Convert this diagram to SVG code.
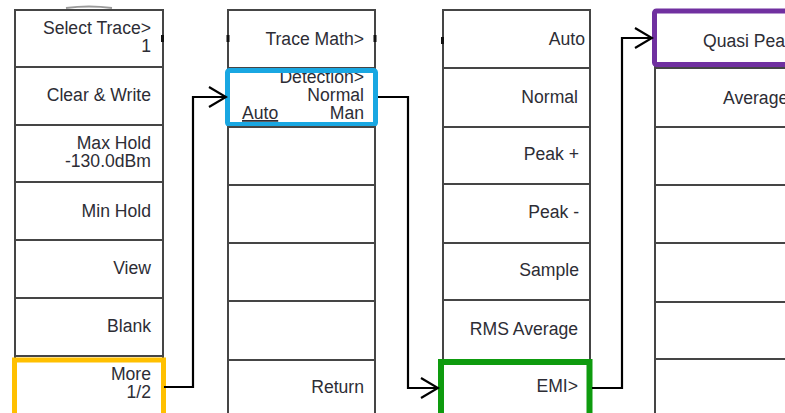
<svg xmlns="http://www.w3.org/2000/svg" width="785" height="413" viewBox="0 0 785 413">
<style>
.btn{fill:#fff;stroke:#454545;stroke-width:2}
.t{font-family:"Liberation Sans",Arial,sans-serif;font-size:17.6px;fill:#2d2d35;text-anchor:end}
.ts{text-anchor:start}
.con{fill:none;stroke:#000;stroke-width:2.2}
.tick{fill:#111}
</style>
<defs>
<marker id="arr" markerWidth="20" markerHeight="24" refX="18" refY="11" orient="auto" markerUnits="userSpaceOnUse">
<path d="M1,1 L18,11 L1,21" fill="none" stroke="#000" stroke-width="2.2"/>
</marker>
</defs>
<rect width="785" height="413" fill="#fff"/>
<path d="M66,8 Q89,5 112,8" fill="none" stroke="#9a9a9a" stroke-width="2"/>

<!-- Column 1 -->
<g id="col1">
<g id="select-trace"><rect class="btn" x="15" y="10" width="148" height="57"/><text class="t" x="151" y="34">Select Trace&gt;</text><text class="t" x="151" y="52">1</text></g>
<g id="clear-write"><rect class="btn" x="15" y="67" width="148" height="58"/><text class="t" x="151" y="101">Clear &amp; Write</text></g>
<g id="max-hold"><rect class="btn" x="15" y="125" width="148" height="57"/><text class="t" x="151" y="149">Max Hold</text><text class="t" x="151" y="167">-130.0dBm</text></g>
<g id="min-hold"><rect class="btn" x="15" y="182" width="148" height="58"/><text class="t" x="151" y="217">Min Hold</text></g>
<g id="view"><rect class="btn" x="15" y="240" width="148" height="58"/><text class="t" x="151" y="274">View</text></g>
<g id="blank"><rect class="btn" x="15" y="298" width="148" height="58"/><text class="t" x="151" y="332">Blank</text></g>
<g id="more"><rect class="btn" x="15" y="356" width="148" height="70"/><text class="t" x="151" y="380">More</text><text class="t" x="151" y="398">1/2</text>
<rect x="14.5" y="360" width="149" height="70" fill="none" stroke="#FFC000" stroke-width="5"/></g>
<rect class="tick" x="161" y="35" width="3" height="7"/>
</g>

<!-- Column 2 -->
<g id="col2">
<g id="trace-math"><rect class="btn" x="228" y="10" width="147" height="58"/><text class="t" x="364" y="45">Trace Math&gt;</text></g>
<g id="detection"><rect class="btn" x="228" y="68" width="147" height="59"/><text class="t" x="364" y="83">Detection&gt;</text><text class="t" x="364" y="101">Normal</text><text class="t" x="364" y="119">Man</text><text class="t ts" x="242" y="119" text-decoration="underline">Auto</text>
<rect x="227.5" y="70.5" width="148" height="54" rx="2" fill="none" stroke="#19A7E2" stroke-width="5"/></g>
<g id="c2-r3"><rect class="btn" x="228" y="127" width="147" height="58"/></g>
<g id="c2-r4"><rect class="btn" x="228" y="185" width="147" height="58"/></g>
<g id="c2-r5"><rect class="btn" x="228" y="243" width="147" height="58"/></g>
<g id="c2-r6"><rect class="btn" x="228" y="301" width="147" height="59"/></g>
<g id="return"><rect class="btn" x="228" y="360" width="147" height="66"/><text class="t" x="364" y="393">Return</text></g>
<rect class="tick" x="226.5" y="35" width="3" height="7"/>
<rect class="tick" x="373.5" y="35" width="3" height="7"/>
</g>

<!-- Column 3 -->
<g id="col3">
<g id="auto"><rect class="btn" x="443" y="10" width="147" height="58"/><text class="t" x="585" y="45">Auto</text></g>
<g id="normal"><rect class="btn" x="443" y="68" width="147" height="59"/><text class="t" x="578" y="103">Normal</text></g>
<g id="peak-plus"><rect class="btn" x="443" y="127" width="147" height="57"/><text class="t" x="579" y="160">Peak +</text></g>
<g id="peak-minus"><rect class="btn" x="443" y="184" width="147" height="59"/><text class="t" x="579" y="218">Peak -</text></g>
<g id="sample"><rect class="btn" x="443" y="243" width="147" height="57"/><text class="t" x="579" y="276">Sample</text></g>
<g id="rms-average"><rect class="btn" x="443" y="300" width="147" height="60"/><text class="t" x="578" y="335">RMS Average</text></g>
<g id="emi"><rect class="btn" x="443" y="360" width="147" height="66"/><text class="t" x="578" y="392">EMI&gt;</text>
<rect x="441" y="362" width="148.5" height="70" fill="none" stroke="#0E9B0E" stroke-width="6"/></g>
<rect class="tick" x="441" y="37" width="3" height="7"/>
</g>

<!-- Column 4 -->
<g id="col4">
<g id="quasi-peak"><rect class="btn" x="655" y="10" width="147" height="58"/><text class="t ts" x="703" y="47">Quasi Peak</text>
<rect x="654.5" y="11" width="150" height="53.5" rx="2" fill="none" stroke="#7030A0" stroke-width="5"/></g>
<g id="average"><rect class="btn" x="655" y="68" width="147" height="59"/><text class="t ts" x="723" y="104">Average</text></g>
<g id="c4-r3"><rect class="btn" x="655" y="127" width="147" height="58"/></g>
<g id="c4-r4"><rect class="btn" x="655" y="185" width="147" height="58"/></g>
<g id="c4-r5"><rect class="btn" x="655" y="243" width="147" height="59"/></g>
<g id="c4-r6"><rect class="btn" x="655" y="302" width="147" height="57"/></g>
<g id="c4-r7"><rect class="btn" x="655" y="359" width="147" height="67"/></g>
</g>

<!-- Connectors -->
<g id="connectors">
<path class="con" d="M164,387 H193 V97 H226" marker-end="url(#arr)"/>
<path class="con" d="M378,97 H408 V388 H438" marker-end="url(#arr)"/>
<path class="con" d="M592,388 H622 V38 H652" marker-end="url(#arr)"/>
</g>
</svg>
